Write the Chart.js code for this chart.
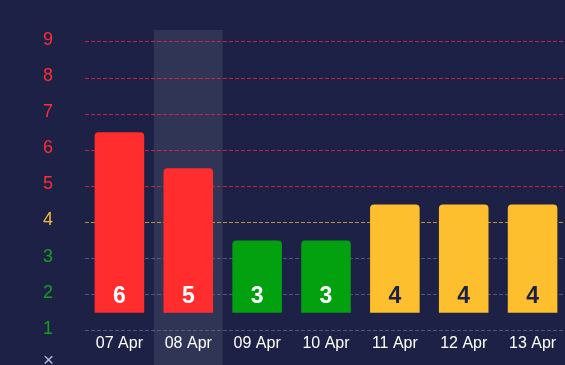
<!DOCTYPE html>
<html>
<head>
<meta charset="utf-8">
<script src="https://cdn.jsdelivr.net/npm/chart.js@4/dist/chart.umd.min.js"></script>
<style>
  html, body { margin: 0; padding: 0; background: #1d2145; }
  #clip { position: relative; width: 565px; height: 365px; overflow: hidden; background: #1d2145; }
  #wrap { position: absolute; left: 0; top: 0; width: 567px; height: 380px; }
</style>
</head>
<body>
<div id="clip"><div id="wrap"><canvas id="c"></canvas></div></div>
<script>
// Data
const categories = ['07 Apr', '08 Apr', '09 Apr', '10 Apr', '11 Apr', '12 Apr', '13 Apr'];
const scores     = [6, 5, 3, 3, 4, 4, 4];
const barLow     = [1.5, 1.5, 1.5, 1.5, 1.5, 1.5, 1.5];
const barHigh    = [6.5, 5.5, 3.5, 3.5, 4.5, 4.5, 4.5];
const yTickValues = [0, 1, 2, 3, 4, 5, 6, 7, 8, 9];
const highlightedIndex = 1;

const RED = '#ff2d2d', GREEN = '#03a010', YELLOW = '#fdbf2d';
function levelColor(v) { return v >= 5 ? RED : (v >= 4 ? YELLOW : GREEN); }
function tickColor(v) { return v === 0 ? '#b9b9e6' : (v >= 5 ? '#ff2d3a' : (v >= 4 ? '#f6b93b' : '#12a01f')); }
function gridColor(v) {
  if (v <= 0) return 'rgba(0,0,0,0)';
  return v >= 5 ? 'rgba(225,35,65,0.85)' : (v >= 4 ? 'rgba(240,180,70,0.75)' : 'rgba(110,114,170,0.65)');
}

const bgPlugin = {
  id: 'bgAndHighlight',
  beforeDraw(chart) {
    const { ctx, chartArea, scales } = chart;
    ctx.save();
    ctx.fillStyle = '#1d2145';
    ctx.fillRect(0, 0, chart.width, chart.height);
    const x = scales.x;
    const w = x.width / categories.length;
    const cx = x.getPixelForValue(highlightedIndex);
    ctx.fillStyle = 'rgba(255,255,255,0.085)';
    ctx.fillRect(cx - w / 2, chartArea.top, w, chart.height - chartArea.top);
    ctx.restore();
  }
};

const valueLabels = {
  id: 'valueLabels',
  afterDatasetsDraw(chart) {
    const { ctx } = chart;
    const meta = chart.getDatasetMeta(0);
    ctx.save();
    ctx.font = 'bold 23px "Liberation Sans", Arial, sans-serif';
    ctx.textAlign = 'center';
    ctx.textBaseline = 'middle';
    meta.data.forEach((bar, i) => {
      const v = scores[i];
      ctx.fillStyle = levelColor(v) === YELLOW ? '#1d2145' : '#ffffff';
      ctx.fillText(String(v), bar.x, bar.base - 16);
    });
    ctx.restore();
  }
};

new Chart(document.getElementById('c'), {
  type: 'bar',
  data: {
    labels: categories,
    datasets: [{
      data: barLow.map((lo, i) => [lo, barHigh[i]]),
      backgroundColor: scores.map(levelColor),
      borderSkipped: false,
      borderRadius: { topLeft: 4, topRight: 4, bottomLeft: 0, bottomRight: 0 },
      barPercentage: 0.9,
      categoryPercentage: 0.8
    }]
  },
  options: {
    responsive: true,
    maintainAspectRatio: false,
    animation: false,
    events: [],
    layout: { padding: { left: 43, right: 0, top: 30, bottom: 13 } },
    plugins: { legend: { display: false }, tooltip: { enabled: false } },
    scales: {
      x: {
        position: { y: 1 },
        grid: { display: false, drawTicks: false },
        border: { display: false },
        ticks: {
          color: '#ffffff',
          padding: 3,
          font: { size: 16, family: '"Liberation Sans", Arial, sans-serif' }
        }
      },
      y: {
        min: 0,
        max: 9.33,
        afterBuildTicks(scale) { scale.ticks = yTickValues.map(v => ({ value: v })); },
        afterFit(scale) { scale.width = 42; },
        grid: {
          drawTicks: false,
          lineWidth: 1,
          color: ctx => gridColor(yTickValues[ctx.index] !== undefined ? yTickValues[ctx.index] : 0)
        },
        border: { display: false, dash: [4, 2] },
        ticks: {
          padding: 0,
          crossAlign: 'far',
          labelOffset: -2,
          color: ctx => tickColor(ctx.tick.value),
          font: ctx => ctx.tick && ctx.tick.value === 0
            ? { size: 19, family: '"Liberation Sans", Arial, sans-serif', lineHeight: '9px' }
            : { size: 18, family: '"Liberation Sans", Arial, sans-serif' },
          callback: v => v === 0 ? ['×', ''] : String(v)
        }
      }
    }
  },
  plugins: [bgPlugin, valueLabels]
});
</script>
</body>
</html>
